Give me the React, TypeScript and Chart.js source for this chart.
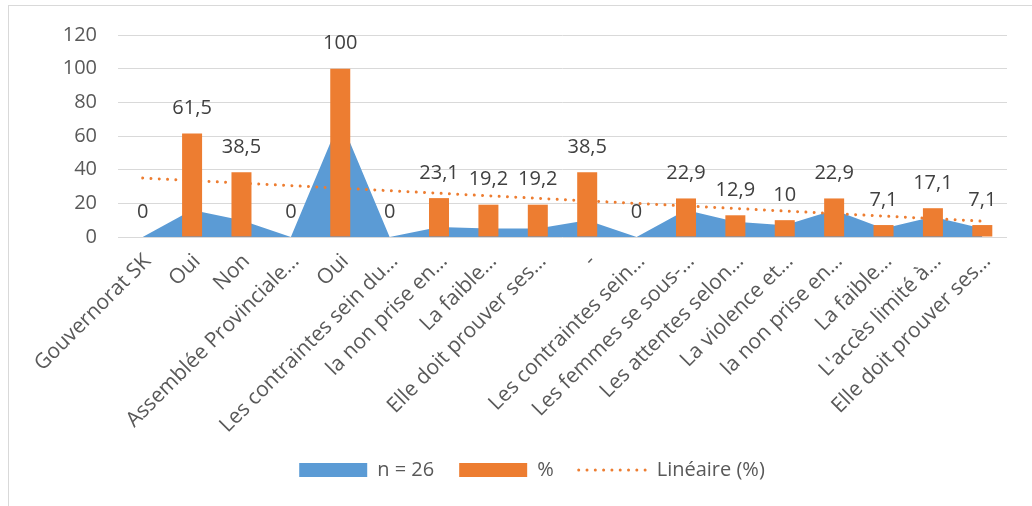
import { useEffect, useRef } from "react";
import { Chart, registerables } from "chart.js";

Chart.register(...registerables);

// Category labels along the x axis (truncated as in the source workbook)
const categories = [
  "Gouvernorat SK",
  "Oui",
  "Non",
  "Assemblée Provinciale…",
  "Oui",
  "Les contraintes sein du…",
  "la non prise en…",
  "La faible…",
  "Elle doit prouver ses…",
  "-",
  "Les contraintes sein…",
  "Les femmes se sous-…",
  "Les attentes selon…",
  "La violence et…",
  "la non prise en…",
  "La faible…",
  "L'accès limité à…",
  "Elle doit prouver ses…",
];

// Counts (area series "n = 26")
const countValues = [0, 16, 10, 0, 70, 0, 6, 5, 5, 10, 0, 16, 9, 7, 16, 5, 12, 5];

// Percentages (bar series "%")
const pctValues = [0, 61.5, 38.5, 0, 100, 0, 23.1, 19.2, 19.2, 38.5, 0, 22.9, 12.9, 10, 22.9, 7.1, 17.1, 7.1];

// Y axis range
const yTicks = [0, 20, 40, 60, 80, 100, 120];

const BLUE = "#5b9bd5";
const ORANGE = "#ed7d31";
const GRID = "#d9d9d9";
const TEXT = "#595959";
const FONT = "'Open Sans', sans-serif";

// Least-squares linear trend of the percentage series (x = 1..n)
function linearTrend(values: number[]): number[] {
  const n = values.length;
  const xs = values.map((_, i) => i + 1);
  const mx = xs.reduce((a, b) => a + b, 0) / n;
  const my = values.reduce((a, b) => a + b, 0) / n;
  let sxy = 0;
  let sxx = 0;
  xs.forEach((x, i) => {
    sxy += (x - mx) * (values[i] - my);
    sxx += (x - mx) * (x - mx);
  });
  const slope = sxy / sxx;
  return xs.map((x) => my + slope * (x - mx));
}

const frameAndBackground = {
  id: "frameAndBackground",
  beforeDraw(chart: Chart) {
    const { ctx, width, height } = chart;
    ctx.save();
    ctx.fillStyle = "#ffffff";
    ctx.fillRect(0, 0, width, height);
    ctx.strokeStyle = GRID;
    ctx.lineWidth = 1;
    ctx.strokeRect(8.5, 5.5, width + 20, height + 20);
    ctx.restore();
  },
};

const barValueLabels = {
  id: "barValueLabels",
  afterDatasetsDraw(chart: Chart) {
    const { ctx } = chart;
    const idx = chart.data.datasets.findIndex((d: any) => d.type === "bar");
    const meta = chart.getDatasetMeta(idx);
    const values = chart.data.datasets[idx].data as number[];
    ctx.save();
    ctx.font = `20px ${FONT}`;
    ctx.fillStyle = "#404040";
    ctx.textAlign = "center";
    ctx.textBaseline = "middle";
    meta.data.forEach((bar: any, i: number) => {
      const text = String(values[i]).replace(".", ",");
      ctx.fillText(text, bar.x, bar.y - 25);
    });
    ctx.restore();
  },
};

export default function App() {
  const canvasRef = useRef<HTMLCanvasElement>(null);

  useEffect(() => {
    if (!canvasRef.current) return;
    const trend = linearTrend(pctValues);
    const chart = new Chart(canvasRef.current, {
      type: "bar",
      data: {
        labels: categories,
        datasets: [
          {
            type: "bar",
            label: "%",
            data: pctValues,
            backgroundColor: ORANGE,
            borderWidth: 0,
            categoryPercentage: 1,
            barPercentage: 0.405,
            order: 1,
          },
          {
            type: "line",
            label: "Linéaire (%)",
            data: trend,
            borderColor: ORANGE,
            borderWidth: 3,
            borderDash: [0.001, 8.3],
            borderCapStyle: "round",
            pointRadius: 0,
            fill: false,
            tension: 0,
            order: 2,
          },
          {
            type: "line",
            label: "n = 26",
            data: countValues,
            backgroundColor: BLUE,
            borderColor: BLUE,
            borderWidth: 0,
            pointRadius: 0,
            fill: "origin",
            tension: 0,
            order: 3,
          },
        ] as any,
      },
      options: {
        responsive: false,
        animation: false,
        events: [],
        layout: { padding: { top: 35, right: 25, left: 57, bottom: 16 } },
        scales: {
          x: {
            grid: { display: false, drawTicks: false },
            border: { display: false },
            ticks: {
              autoSkip: false,
              maxRotation: 45,
              minRotation: 45,
              padding: 12,
              labelOffset: 5,
              color: TEXT,
              font: { family: FONT, size: 21 },
            },
            afterFit: (scale: any) => {
              scale.height = 198;
            },
          },
          y: {
            min: yTicks[0],
            max: yTicks[yTicks.length - 1],
            afterBuildTicks: (scale: any) => {
              scale.ticks = yTicks.map((v) => ({ value: v }));
            },
            grid: { color: GRID, lineWidth: 1, drawTicks: false },
            border: { display: false },
            ticks: {
              padding: 21,
              color: TEXT,
              font: { family: FONT, size: 20 },
            },
            afterFit: (scale: any) => {
              scale.width = 61;
            },
          },
        },
        plugins: {
          tooltip: { enabled: false },
          legend: {
            position: "bottom",
            labels: {
              usePointStyle: true,
              pointStyleWidth: 68,
              boxHeight: 14,
              padding: 25,
              color: TEXT,
              font: { family: FONT, size: 20 },
              generateLabels: () => [
                {
                  text: "n = 26",
                  fillStyle: BLUE,
                  strokeStyle: BLUE,
                  lineWidth: 0,
                  pointStyle: "rect",
                  hidden: false,
                  datasetIndex: 2,
                  fontColor: TEXT,
                },
                {
                  text: "%",
                  fillStyle: ORANGE,
                  strokeStyle: ORANGE,
                  lineWidth: 0,
                  pointStyle: "rect",
                  hidden: false,
                  datasetIndex: 0,
                  fontColor: TEXT,
                },
                {
                  text: "Linéaire (%)",
                  fillStyle: "rgba(0,0,0,0)",
                  strokeStyle: ORANGE,
                  lineWidth: 3,
                  lineDash: [0.001, 8.3],
                  lineCap: "round",
                  pointStyle: "line",
                  hidden: false,
                  datasetIndex: 1,
                  fontColor: TEXT,
                },
              ],
            },
          },
        },
      } as any,
      plugins: [frameAndBackground, barValueLabels],
    });
    return () => chart.destroy();
  }, []);

  return (
    <div style={{ position: "fixed", left: 0, top: 0, width: 1032, height: 506, background: "#fff" }}>
      <canvas ref={canvasRef} width={1032} height={506} style={{ display: "block" }} />
    </div>
  );
}
